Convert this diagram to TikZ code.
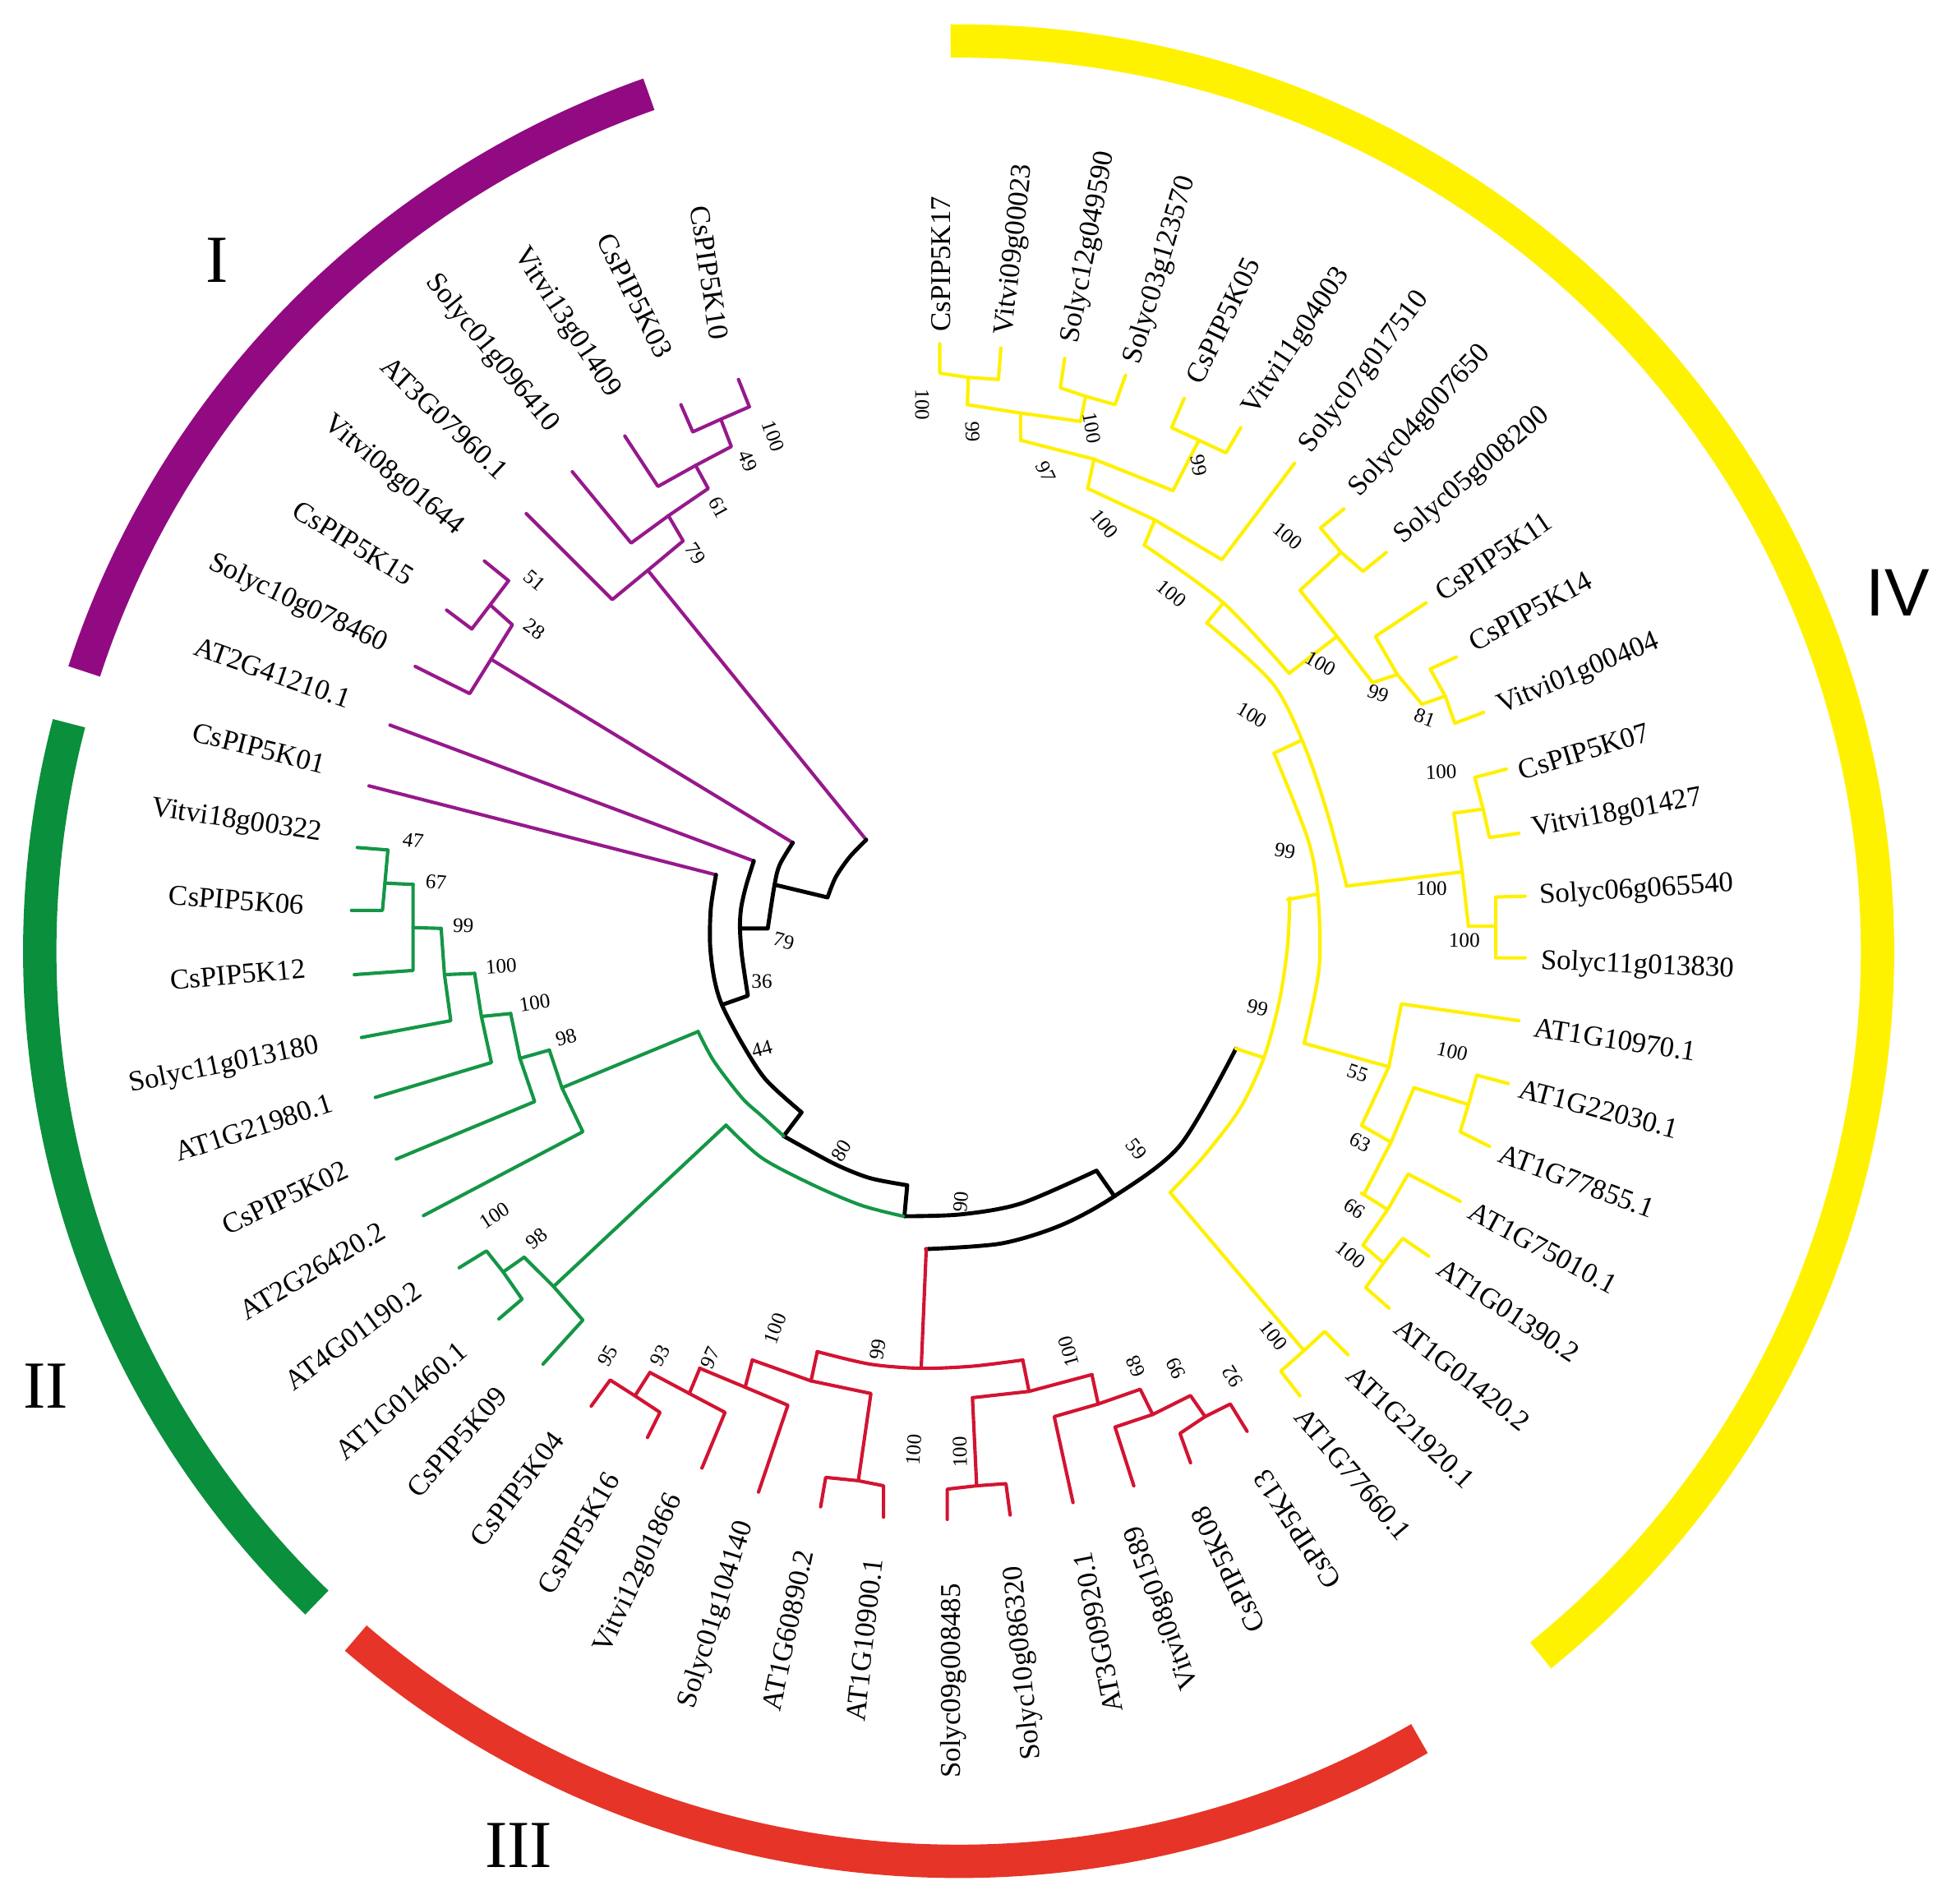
\documentclass[tikz,border=0pt]{standalone}
\usepackage{fontspec}
\setmainfont{Liberation Serif}
\newfontfamily\romsans{Liberation Sans}
\definecolor{rpur}{RGB}{145,10,130}
\definecolor{rgrn}{RGB}{10,143,60}
\definecolor{rred}{RGB}{230,52,40}
\definecolor{ryel}{RGB}{255,242,0}
\definecolor{tpur}{RGB}{150,25,140}
\definecolor{tgrn}{RGB}{20,150,70}
\definecolor{tred}{RGB}{210,20,50}
\definecolor{tyel}{RGB}{255,240,0}
\begin{document}
\begin{tikzpicture}[x=0.02cm,y=-0.02cm,
  lbl/.style={font=\fontsize{13.2}{15}\selectfont,inner sep=0pt},
  bs/.style={font=\fontsize{9.5}{11}\selectfont,inner sep=0pt},
  roman/.style={font=\fontsize{31}{31}\selectfont,inner sep=0pt},
  br/.style={line width=0.55mm,line join=round,line cap=round},
  bk/.style={br,line width=0.65mm,draw=black},
  pu/.style={br,draw=tpur}, gr/.style={br,draw=tgrn},
  rd/.style={br,draw=tred}, ye/.style={br,draw=tyel},
  ring/.style={line width=0.54cm}]
\useasboundingbox (0,0) rectangle (1568,1541);
% ---------------- outer rings ----------------
\coordinate (rc) at (776,770);
\draw[ring,draw=rpur] (rc) ++(109.7:14.88cm and 14.74cm) arc[start angle=109.7,end angle=162.1,x radius=14.88cm,y radius=14.74cm];
\draw[ring,draw=rgrn] (rc) ++(165.5:14.88cm and 14.74cm) arc[start angle=165.5,end angle=225.7,x radius=14.88cm,y radius=14.74cm];
\draw[ring,draw=rred] (rc) ++(229:14.88cm and 14.74cm) arc[start angle=229,end angle=300.1,x radius=14.88cm,y radius=14.74cm];
\draw[ring,draw=ryel] (rc) ++(90.5:14.88cm and 14.74cm) arc[start angle=90.5,end angle=-50.7,x radius=14.88cm,y radius=14.74cm];
\node[roman] (rI) at (176,211) {I};
\node[roman] (rII) at (37,1122) {II};
\node[roman] (rIII) at (420,1494) {III};
\node[roman,font=\romsans\fontsize{31}{31}\selectfont] (rIV) at (1536,480) {IV};
% ---------------- purple clade ----------------
\draw[pu] (597.8,307.2)--(606.6,329.3)--(583.5,339.4)--(560.8,349.6)--(551.2,327.6);
\draw[pu] (583.5,339.4)--(592,361.5)--(563.1,376.8)--(532.6,393.8)--(505.8,353);
\draw[pu] (563.1,376.8)--(573.3,395.5)--(541.1,417.5)--(510.9,439.6)--(463.3,381.9);
\draw[pu] (541.1,417.5)--(553,437.9)--(524.4,461.7)--(495.6,485.4)--(426,415.8);
\draw[pu] (524.4,461.7)--(701.2,679.9);
\draw[pu] (392.1,454.2)--(411.7,470.1)--(396.8,489.7)--(381.9,509.2)--(361.5,493.9);
\draw[pu] (396.8,489.7)--(414.8,505.8)--(397.5,533.7)--(380.2,561.5)--(336.1,539.5);
\draw[pu] (397.5,533.7)--(641.8,682.2);
\draw[pu] (315.7,587)--(610.2,697);
\draw[pu] (298.7,636.2)--(579.6,708.2);
% ---------------- black backbone ----------------
\draw[bk] plot[smooth] coordinates {(701.2,679.9) (687.6,694) (676.4,710.3) (669.9,726.5)} -- (627,716.2);
\draw[bk] plot[smooth] coordinates {(641.8,682.2) (631.2,700) (627,716.2) (621.5,751.6)} -- (599,751.6);
\draw[bk] plot[smooth] coordinates {(610.2,697) (603.8,717.6) (599.9,735.3) (599,751.6) (600.6,773.7) (605.4,806.1)} -- (584.4,813.5);
\draw[bk] plot[smooth] coordinates {(579.6,708.2) (575.4,735.3) (574.8,764.8) (578,791.4) (584.4,813.5) (600.6,844.5) (619.9,874) (648.9,900.5)} -- (634.4,919.7);
\draw[bk] plot[smooth] coordinates {(634.4,919.7) (674.7,941.8) (703.8,953.6) (734.4,959.5)} -- (732.1,984.6);
\draw[bk] plot[smooth] coordinates {(732.1,984.6) (777.9,983.1) (826.3,974.3) (887.6,947.7)} -- (902.1,968.4);
\draw[bk] plot[smooth] coordinates {(749.6,1011.2) (810.2,1006.7) (858.6,992) (902.1,968.4) (955.3,927.1) (1000.5,848.9)};
% ---------------- green clade ----------------
\draw[gr] plot[smooth] coordinates {(565.1,835.1) (578,859.2) (600.6,888.7) (616.7,903.5) (634.4,919.7)};
\draw[gr] (454.9,880.6)--(565.1,835.1);
\draw[gr] plot[smooth] coordinates {(587.7,910.9) (616.7,937.4) (658.6,959.5) (697.3,975.8) (731.2,984.6)};
\draw[gr] (448.1,1041.5)--(587.7,910.9);
\draw[gr] (444.7,850.1)--(454.9,880.6)--(471.8,916.2)--(342.8,984.1);
\draw[gr] (420.9,856.8)--(444.7,850.1);
\draw[gr] (413.4,820.5)--(420.9,856.8)--(432.8,891.8)--(320.8,938.3);
\draw[gr] (389.7,822.9)--(413.4,820.5);
\draw[gr] (384.2,788)--(389.7,822.9)--(397.8,860.2)--(303.8,888.4);
\draw[gr] (359.8,789)--(384.2,788);
\draw[gr] (357.1,751.6)--(359.8,789)--(364.9,826.3)--(292.6,839.9);
\draw[gr] (334.4,750.9)--(357.1,751.6);
\draw[gr] (334.4,716)--(334.4,785.6)--(286.8,789);
\draw[gr] (311.6,714.9)--(334.4,716);
\draw[gr] (289.2,686.1)--(314,688.1)--(309.6,737)--(284.5,737);
\draw[gr] (371.7,1026.3)--(393.8,1012.7)--(407.3,1029.7)--(422.6,1051.7)--(403.9,1067.7);
\draw[gr] (407.3,1029.7)--(424.3,1017.8);
\draw[gr] (424.3,1017.8)--(448.1,1041.5)--(471.8,1068.7)--(439.6,1104.3);
% ---------------- red clade ----------------
\draw[rd] (749.8,1011)--(745.7,1107.7);
\draw[rd] plot[smooth] coordinates {(661.6,1094.2) (704,1104.3) (745.7,1107.7) (787.2,1106) (827.9,1101)};
\draw[rd] (661.6,1094.2)--(656.5,1117.9);
\draw[rd] (827.9,1101)--(833,1126.4);
\draw[rd] (609,1101)--(656.5,1117.9)--(705,1128.1)--(694.8,1198.7);
\draw[rd] (664.3,1219.8)--(668.4,1196)--(694.8,1198.7)--(715.2,1202.8)--(715.2,1228.2);
\draw[rd] (603.2,1123)--(609,1101);
\draw[rd] (566.5,1107.7)--(603.2,1123)--(637.8,1137.6)--(614,1207.9);
\draw[rd] (558,1128.1)--(566.5,1107.7);
\draw[rd] (526.1,1111.1)--(558,1128.1)--(586.9,1143.4)--(568.2,1188.5);
\draw[rd] (478.6,1138.3)--(493.9,1117.2)--(514,1130)--(534.3,1143.4)--(524.1,1163.7);
\draw[rd] (514,1130)--(526.1,1111.1);
\draw[rd] (787.2,1131.5)--(833,1126.4)--(883.9,1112.8);
\draw[rd] (787.2,1131.5)--(790.6,1202.8);
\draw[rd] (883.9,1112.8)--(889,1136.6);
\draw[rd] (766.8,1230)--(766.8,1205.5)--(790.6,1202.8)--(814.3,1201.1)--(817.7,1226.5);
\draw[rd] (868.6,1216.4)--(853.4,1146.8)--(889,1136.6)--(923,1124.7)--(933.1,1145.1);
\draw[rd] (917.8,1202.8)--(902.6,1155.3)--(933.1,1145.1)--(963.7,1129.8)--(975.5,1146.8);
\draw[rd] (963.7,1184.1)--(955.2,1160.4)--(975.5,1146.8)--(995.9,1136.6)--(1009.5,1158.7);
% ---------------- yellow clade ----------------
\draw[ye] (760.7,278.3)--(760.7,302.1)--(783.8,305.5)--(808.2,307.2)--(810.2,281.7);
\draw[ye] (783.8,305.5)--(783.1,327.6);
\draw[ye] (861.8,290.2)--(858.4,314)--(878.8,320.8)--(902.6,327.6)--(911.1,303.8);
\draw[ye] (878.8,320.8)--(874.7,341.1);
\draw[ye] (783.1,327.6)--(826.2,334.4)--(874.7,341.1);
\draw[ye] (826.2,334.4)--(826.2,356.4);
\draw[ye] (958.6,322.5)--(948.4,346.2)--(970.5,356.4)--(992.5,366.6)--(1004.4,346.2);
\draw[ye] (970.5,356.4)--(949.5,397.2);
\draw[ye] (826.2,356.4)--(885.6,371.7)--(949.5,397.2);
\draw[ye] (885.6,371.7)--(880.5,395.4);
\draw[ye] (880.5,395.4)--(934.8,420.9)--(989.1,453.1)--(1048,375);
\draw[ye] (934.8,420.9)--(926.3,441.3);
\draw[ye] plot[smooth] coordinates {(926.3,441.3) (990.3,488) (1043.5,545.1)};
\draw[ye] (990.3,488)--(977,504.3);
\draw[ye] (1043.5,545.1)--(1082.3,515.2);
\draw[ye] (1052.4,477.9)--(1082.3,515.2)--(1111.1,552.6);
\draw[ye] (1085.6,447.2)--(1052.4,477.9);
\draw[ye] (1087.9,412)--(1069,427.4)--(1085.6,447.2)--(1103.4,462.5)--(1122.2,447.2);
\draw[ye] (1154.4,488)--(1113.4,515.2)--(1131.1,546)--(1151.1,570.1);
\draw[ye] (1131.1,546)--(1111.1,552.6);
\draw[ye] (1178.8,531.9)--(1157.7,541.6)--(1169.9,563.5)--(1177.7,585.5)--(1201,576.7);
\draw[ye] (1169.9,563.5)--(1151.1,570.1);
\draw[ye] plot[smooth] coordinates {(977,504.3) (1030,553) (1056,604) (1075,660) (1090.1,717.3)};
\draw[ye] (1053,599.6)--(1031.3,609.7);
\draw[ye] plot[smooth] coordinates {(1031.3,609.7) (1058.8,679.6) (1066.8,723.8) (1067.9,783.1) (1055.7,844.6)};
\draw[ye] (1066.8,723.8)--(1042.4,728.2);
\draw[ye] (1055.7,844.6)--(1124.3,863.6);
\draw[ye] plot[smooth] coordinates {(1044,727) (1042.4,764.8) (1035.9,809.1) (1023.1,856.3) (1003.6,897.6) (974.6,935.9) (947.2,965.4)};
\draw[ye] (1000.5,848.9)--(1023.1,856.3);
\draw[ye] (947.2,965.4)--(1055.6,1093.4);
\draw[ye] (1052.3,1130)--(1036.8,1110)--(1055.6,1093.4)--(1072.3,1077.9)--(1091.1,1096.7);
\draw[ye] (1090.1,717.3)--(1183.7,705.8);
\draw[ye] (1176.9,658.3)--(1183.7,705.8)--(1188.7,749.9);
\draw[ye] (1219.3,622.6)--(1193.8,629.4)--(1200.6,654.9)--(1205.7,678)--(1229.5,674.6);
\draw[ye] (1200.6,654.9)--(1176.9,658.3);
\draw[ye] (1234.6,725.5)--(1210.8,726.2)--(1210.8,775.4)--(1234.6,775.4);
\draw[ye] (1210.8,749.9)--(1188.7,749.9);
\draw[ye] (1229.5,826.3)--(1134.4,812.7)--(1124.3,863.6)--(1102.2,911.1);
\draw[ye] (1126,924.7)--(1102.2,911.1);
\draw[ye] (1144.6,880.6)--(1126,924.7)--(1103.9,967.2);
\draw[ye] (1188.7,894.2)--(1144.6,880.6);
\draw[ye] (1221,877.2)--(1195.5,870.4)--(1188.7,894.2)--(1182,916.2)--(1205.7,928.1);
\draw[ye] (1123.3,979.2)--(1102.2,965.9);
\draw[ye] (1182,972.5)--(1139.9,950.4)--(1123.3,979.2)--(1103.3,1008);
\draw[ye] (1119.9,1022.4)--(1103.3,1008);
\draw[ye] (1156.5,1016.9)--(1135.5,1002.5)--(1119.9,1022.4)--(1105.5,1042.4)--(1124.4,1059);
% ---------------- leaf labels ----------------
\node[lbl,rotate=90] (l1) at (761.7,213.8) {CsPIP5K17};
\node[lbl,rotate=83.5] (l2) at (821.8,202) {Vitvi09g00023};
\node[lbl,rotate=79.3] (l3) at (881.4,200.3) {Solyc12g049590};
\node[lbl,rotate=73.5] (l4) at (939.4,218.8) {Solyc03g123570};
\node[lbl,rotate=64.2] (l5) at (990,259.5) {CsPIP5K05};
\node[lbl,rotate=56.5] (l6) at (1050,276.7) {Vitvi11g04003};
\node[lbl,rotate=52.8] (l7) at (1104.7,301.3) {Solyc07g017510};
\node[lbl,rotate=47.6] (l8) at (1149.7,341.1) {Solyc04g007650};
\node[lbl,rotate=40.8] (l9) at (1192,385.3) {Solyc05g008200};
\node[lbl,rotate=34] (l10) at (1209,450.7) {CsPIP5K11};
\node[lbl,rotate=28.6] (l11) at (1238.7,494.7) {CsPIP5K14};
\node[lbl,rotate=22.6] (l12) at (1277.8,546.2) {Vitvi01g00404};
\node[lbl,rotate=17] (l13) at (1282.1,608.2) {CsPIP5K07};
\node[lbl,rotate=10.6] (l14) at (1309.2,659.1) {Vitvi18g01427};
\node[lbl,rotate=3.6] (l15) at (1324.6,721) {Solyc06g065540};
\node[lbl,rotate=-2.5] (l16) at (1325.4,782.2) {Solyc11g013830};
\node[lbl,rotate=-8.7] (l17) at (1307.6,841.6) {AT1G10970.1};
\node[lbl,rotate=-14.7] (l18) at (1294,897.6) {AT1G22030.1};
\node[lbl,rotate=-20.3] (l19) at (1276.1,956.1) {AT1G77855.1};
\node[lbl,rotate=-28.2] (l20) at (1249,1010.4) {AT1G75010.1};
\node[lbl,rotate=-33.5] (l21) at (1221,1061.1) {AT1G01390.2};
\node[lbl,rotate=-38] (l22) at (1183.7,1112.9) {AT1G01420.2};
\node[lbl,rotate=-43.5] (l23) at (1142,1155.3) {AT1G21920.1};
\node[lbl,rotate=-49.7] (l24) at (1095.4,1193.5) {AT1G77660.1};
\node[lbl,rotate=123.4] (l25) at (1050.4,1238.2) {CsPIP5K13};
\node[lbl,rotate=115.7] (l26) at (994.3,1270.8) {CsPIP5K08};
\node[lbl,rotate=109.7] (l27) at (941.7,1301.2) {Vitvi08g01589};
\node[lbl,rotate=101] (l28) at (889,1321.6) {AT3G09920.1};
\node[lbl,rotate=95.5] (l29) at (828.8,1346.2) {Solyc10g086320};
\node[lbl,rotate=90] (l30) at (771.9,1360.7) {Solyc09g008485};
\node[lbl,rotate=83.7] (l31) at (699.8,1327.6) {AT1G10900.1};
\node[lbl,rotate=78.1] (l32) at (637.8,1319.9) {AT1G60890.2};
\node[lbl,rotate=72.5] (l33) at (580.1,1307.2) {Solyc01g104140};
\node[lbl,rotate=64.8] (l34) at (517.5,1274.1) {Vitvi12g01866};
\node[lbl,rotate=59.8] (l35) at (468.5,1241) {CsPIP5K16};
\node[lbl,rotate=53] (l36) at (418.4,1205.4) {CsPIP5K04};
\node[lbl,rotate=48.9] (l37) at (370,1167.2) {CsPIP5K09};
\node[lbl,rotate=40.8] (l38) at (325,1134) {AT1G01460.1};
\node[lbl,rotate=36.7] (l39) at (286,1081.4) {AT4G01190.2};
\node[lbl,rotate=31] (l40) at (252.9,1029) {AT2G26420.2};
\node[lbl,rotate=25.8] (l41) at (230.8,969.7) {CsPIP5K02};
\node[lbl,rotate=18] (l42) at (205.4,912.9) {AT1G21980.1};
\node[lbl,rotate=11.7] (l43) at (181.6,862.8) {Solyc11g013180};
\node[lbl,rotate=5.2] (l44) at (192.7,789) {CsPIP5K12};
\node[lbl,rotate=-4.4] (l45) at (191.5,728.8) {CsPIP5K06};
\node[lbl,rotate=-8.3] (l46) at (191.5,665.1) {Vitvi18g00322};
\node[lbl,rotate=-14.3] (l47) at (209.6,605.6) {CsPIP5K01};
\node[lbl,rotate=-19.3] (l48) at (220.6,544.6) {AT2G41210.1};
\node[lbl,rotate=-25.5] (l49) at (241,488.8) {Solyc10g078460};
\node[lbl,rotate=-31.7] (l50) at (286,439.6) {CsPIP5K15};
\node[lbl,rotate=-39.7] (l51) at (318.2,385.3) {Vitvi08g01644};
\node[lbl,rotate=-43.5] (l52) at (359.8,338.6) {AT3G07960.1};
\node[lbl,rotate=-50.9] (l53) at (398,286) {Solyc01g096410};
\node[lbl,rotate=-56.7] (l54) at (458.3,261.4) {Vitvi13g01409};
\node[lbl,rotate=-63.3] (l55) at (513.9,239.4) {CsPIP5K03};
\node[lbl,rotate=-81.5] (l56) at (574.2,220.7) {CsPIP5K10};
% ---------------- bootstrap values ----------------
\node[bs,rotate=-70.4] (p1) at (625.9,353) {100};
\node[bs,rotate=-66.8] (p2) at (605.6,373.4) {49};
\node[bs,rotate=-61.5] (p3) at (581.8,410.7) {61};
\node[bs,rotate=-56.2] (p4) at (563.1,448.1) {79};
\node[bs,rotate=-40.4] (p5) at (432.8,470.1) {51};
\node[bs,rotate=-36.3] (p6) at (432.8,509.2) {28};
\node[bs,rotate=-15] (k1) at (634.4,761.9) {79};
\node[bs,rotate=0] (k2) at (616.7,794.3) {36};
\node[bs,rotate=15] (k3) at (616.7,848.9) {44};
\node[bs,rotate=58] (k4) at (681.2,931.5) {80};
\node[bs,rotate=85] (k5) at (777.9,972.8) {90};
\node[bs,rotate=-52] (k6) at (919.8,930.1) {59};
\node[bs,rotate=-8] (g1) at (334.4,680.3) {47};
\node[bs,rotate=-5] (g2) at (353,714.3) {67};
\node[bs,rotate=-1] (g3) at (375.1,749.2) {99};
\node[bs,rotate=4] (g4) at (405.6,782.2) {100};
\node[bs,rotate=9] (g5) at (432.8,811.7) {100};
\node[bs,rotate=15] (g6) at (458.2,839.9) {98};
\node[bs,rotate=33] (g7) at (400.5,984.1) {100};
\node[bs,rotate=40] (g8) at (434.5,1002.8) {98};
\node[bs,rotate=60] (r1) at (492.2,1097.6) {95};
\node[bs,rotate=62] (r2) at (534.3,1097.6) {93};
\node[bs,rotate=65] (r3) at (575,1099.3) {97};
\node[bs,rotate=70] (r4) at (627.6,1075.5) {100};
\node[bs,rotate=82] (r5) at (710.8,1092.5) {99};
\node[bs,rotate=86] (r6) at (739.6,1173.9) {100};
\node[bs,rotate=91] (r7) at (777,1175.6) {100};
\node[bs,rotate=106] (r8) at (865.2,1094.2) {100};
\node[bs,rotate=113] (r9) at (919.5,1106.1) {68};
\node[bs,rotate=117] (r10) at (951.8,1107.7) {99};
\node[bs,rotate=122] (r11) at (997.6,1114.5) {92};
\node[bs,rotate=-90] (y1) at (746.4,327.6) {100};
\node[bs,rotate=-88] (y2) at (787.2,349.6) {99};
\node[bs,rotate=-80] (y3) at (883.9,346.2) {100};
\node[bs,rotate=-65] (y4) at (846.6,381.9) {97};
\node[bs,rotate=-78] (y5) at (970.5,376.8) {99};
\node[bs,rotate=-50] (y6) at (894.1,424.3) {100};
\node[bs,rotate=-40] (y7) at (948.4,480.3) {100};
\node[bs,rotate=-40] (y8) at (1042.4,434) {100};
\node[bs,rotate=-30] (y9) at (1069,537.2) {100};
\node[bs,rotate=-20] (y10) at (1115.6,561.4) {99};
\node[bs,rotate=-20] (y11) at (1153.3,581.1) {81};
\node[bs,rotate=-30] (y13) at (1013.6,578.9) {100};
\node[bs,rotate=-10] (y14) at (1040.2,688.7) {99};
\node[bs,rotate=2] (y15) at (1166.6,625) {100};
\node[bs,rotate=0] (y16) at (1158.8,719.5) {100};
\node[bs,rotate=-1] (y17) at (1185.4,761.2) {100};
\node[bs,rotate=-13.4] (y18) at (1018,816.1) {99};
\node[bs,rotate=-18.8] (y19) at (1098.9,868.8) {55};
\node[bs,rotate=-13.1] (y20) at (1175.5,851.2) {100};
\node[bs,rotate=-26.9] (y21) at (1101.1,924.9) {63};
\node[bs,rotate=-34.1] (y22) at (1096.7,978.1) {66};
\node[bs,rotate=-38.7] (y23) at (1093.3,1015.8) {100};
\node[bs,rotate=-51.1] (y24) at (1031.2,1081.2) {100};
\end{tikzpicture}
\end{document}
